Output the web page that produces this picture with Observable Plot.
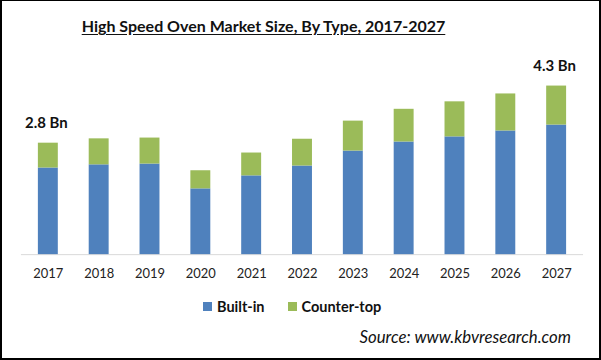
<!DOCTYPE html>
<html>
<head>
<meta charset="utf-8">
<script src="https://cdn.jsdelivr.net/npm/d3@7"></script>
<script src="https://cdn.jsdelivr.net/npm/@observablehq/plot@0.6"></script>
<style>
  html, body { margin: 0; padding: 0; background: #fff; }
  #frame {
    position: relative; width: 601px; height: 360px; box-sizing: border-box;
    border: 2px solid #000; border-top-width: 1px; background: #fff; overflow: hidden;
    font-family: Lato, "Open Sans", sans-serif;
  }
  #title {
    position: absolute; left: 0; width: 523px; text-align: center;
    top: 15px; font-size: 16px; font-weight: bold; color: #111; text-decoration: underline;
    text-underline-offset: 2px;
  }
  #chart { position: absolute; left: -2px; top: -1px; }
  #legend {
    position: absolute; top: 297px; left: 201px; display: flex; align-items: center;
    font-size: 14.5px; font-weight: bold; color: #111;
  }
  #legend .item { display: flex; align-items: center; margin-right: 23px; }
  #legend .sw { width: 9px; height: 9px; margin-right: 5px; display: inline-block; }
  #source {
    position: absolute; top: 325px; right: 28px; font-size: 16.8px; font-style: italic; color: #111;
  }
</style>
</head>
<body>
<div id="frame">
  <div id="title">High Speed Oven Market Size, By Type, 2017-2027</div>
  <div id="chart"></div>
  <div id="legend"></div>
  <div id="source">Source: www.kbvresearch.com</div>
</div>
<script>
const years = ["2017","2018","2019","2020","2021","2022","2023","2024","2025","2026","2027"];
const types = ["Built-in", "Counter-top"];
const builtIn    = [2.20, 2.28, 2.30, 1.67, 2.00, 2.25, 2.63, 2.86, 2.99, 3.14, 3.29];
const counterTop = [0.63, 0.66, 0.66, 0.46, 0.58, 0.68, 0.76, 0.83, 0.89, 0.94, 0.99];
const labelYears = ["2017", "2027"];
const labelTexts = ["2.8 Bn", "4.3 Bn"];
const colors = ["#4f81bd", "#9bbb59"];

const data = years.flatMap((y, i) => [
  {year: y, type: types[0], value: builtIn[i]},
  {year: y, type: types[1], value: counterTop[i]}
]);
const labels = labelYears.map((y, k) => {
  const i = years.indexOf(y);
  return {year: y, total: builtIn[i] + counterTop[i], label: labelTexts[k]};
});

const chart = Plot.plot({
  width: 601,
  height: 290,
  marginLeft: 21,
  marginRight: 16,
  marginTop: 57.4,
  marginBottom: 35,
  x: {domain: years, paddingInner: 0.6, paddingOuter: 0.3, label: null, tickSize: 0, tickPadding: 14},
  y: {domain: [0, 5], axis: null},
  color: {domain: types, range: colors},
  style: {fontFamily: "Lato, 'Open Sans', sans-serif", fontSize: "13px", color: "#222", background: "transparent", overflow: "visible"},
  marks: [
    Plot.ruleY([0], {stroke: "#d9d9d9"}),
    Plot.barY(data, {x: "year", y: "value", fill: "type"}),
    Plot.text(labels, {x: "year", y: "total", text: "label", dy: -20, dx: -2, fontWeight: "bold", fontSize: 15, fill: "#111"})
  ]
});
document.getElementById("chart").appendChild(chart);

const legend = document.getElementById("legend");
types.forEach((t, i) => {
  const item = document.createElement("span");
  item.className = "item";
  const sw = document.createElement("span");
  sw.className = "sw";
  sw.style.background = colors[i];
  item.appendChild(sw);
  item.appendChild(document.createTextNode(t));
  legend.appendChild(item);
});
</script>
</body>
</html>
